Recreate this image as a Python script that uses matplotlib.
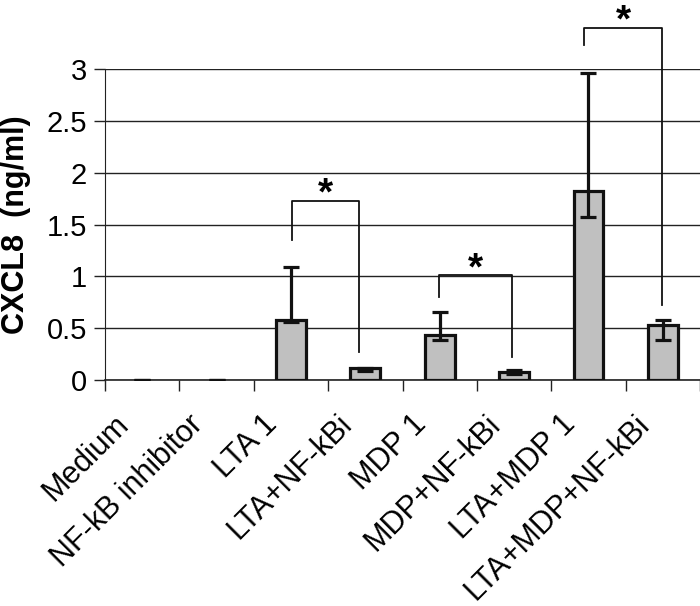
import numpy as np
import matplotlib.pyplot as plt
import matplotlib.transforms as mtransforms

plt.rcParams['font.family'] = ['Liberation Sans', 'DejaVu Sans']

groups = ['Medium', 'NF-kB inhibitor', 'LTA 1', 'LTA+NF-kBi', 'MDP 1',
          'MDP+NF-kBi', 'LTA+MDP 1', 'LTA+MDP+NF-kBi']
means = [0.0, 0.0, 0.58, 0.12, 0.43, 0.08, 1.82, 0.53]
err_low = [0.0, 0.0, 0.02, 0.03, 0.04, 0.02, 0.25, 0.14]
err_high = [0.0, 0.0, 0.51, 0.0, 0.23, 0.02, 1.14, 0.05]

# significance brackets: (left x, right x, left leg bottom, right leg bottom, top)
brackets = [(2.01, 2.91, 1.35, 0.27, 1.73),
            (3.99, 4.97, 0.80, 0.22, 1.01),
            (5.94, 6.99, 3.23, 0.72, 3.40)]

fig = plt.figure(figsize=(7, 6.06), dpi=100)
ax = fig.add_axes([0.15, 0.373, 0.85, 0.513])

x = np.arange(len(groups))
edges = ['#111111' if m > 0 else 'none' for m in means]
ax.bar(x, means, width=0.4, color='#c0c0c0', edgecolor=edges, linewidth=2.3, zorder=3)
ax.errorbar(x, means, yerr=[err_low, err_high], fmt='none', ecolor='#111111',
            elinewidth=2.3, capsize=6, capthick=2.3, zorder=4)

ax.set_xlim(-0.5, len(groups) - 0.5)
ax.set_ylim(0, 3)
ax.set_yticks(np.arange(0, 3.01, 0.5))
ax.set_yticklabels(['0', '0.5', '1', '1.5', '2', '2.5', '3'])
ax.yaxis.grid(True, color='#222222', linewidth=1.0)
ax.set_axisbelow(True)
ax.set_xticks(np.arange(len(groups) + 1) - 0.5)
ax.set_xticklabels([])
ax.tick_params(axis='x', length=8, width=1, color='#222222')
ax.tick_params(axis='y', length=8, width=1, color='#222222', labelsize=21, pad=5)

# category labels, slanted
shift = mtransforms.ScaledTranslation(-18 / 100, -40 / 100, fig.dpi_scale_trans)
for xi, name in zip(x, groups):
    ax.text(xi, 0, name, transform=ax.get_xaxis_transform() + shift,
            rotation=45, ha='right', va='center', rotation_mode='anchor',
            fontsize=22)

for s in ['top', 'right']:
    ax.spines[s].set_visible(False)
ax.spines['left'].set_color('#222222')
ax.spines['bottom'].set_color('#222222')
ax.spines['bottom'].set_linewidth(1.2)

ax.set_ylabel('CXCL8  (ng/ml)', fontsize=22, fontweight='bold', labelpad=11)

for xl, xr, lb, rb, top in brackets:
    ax.plot([xl, xl, xr, xr], [lb, top, top, rb], color='#111111',
            linewidth=1.3, clip_on=False, zorder=5)
    ax.text((xl + xr) / 2, top + 0.06, '*', ha='center', va='center',
            fontsize=28, fontweight='bold', clip_on=False)

fig.savefig('out.png', dpi=100)
